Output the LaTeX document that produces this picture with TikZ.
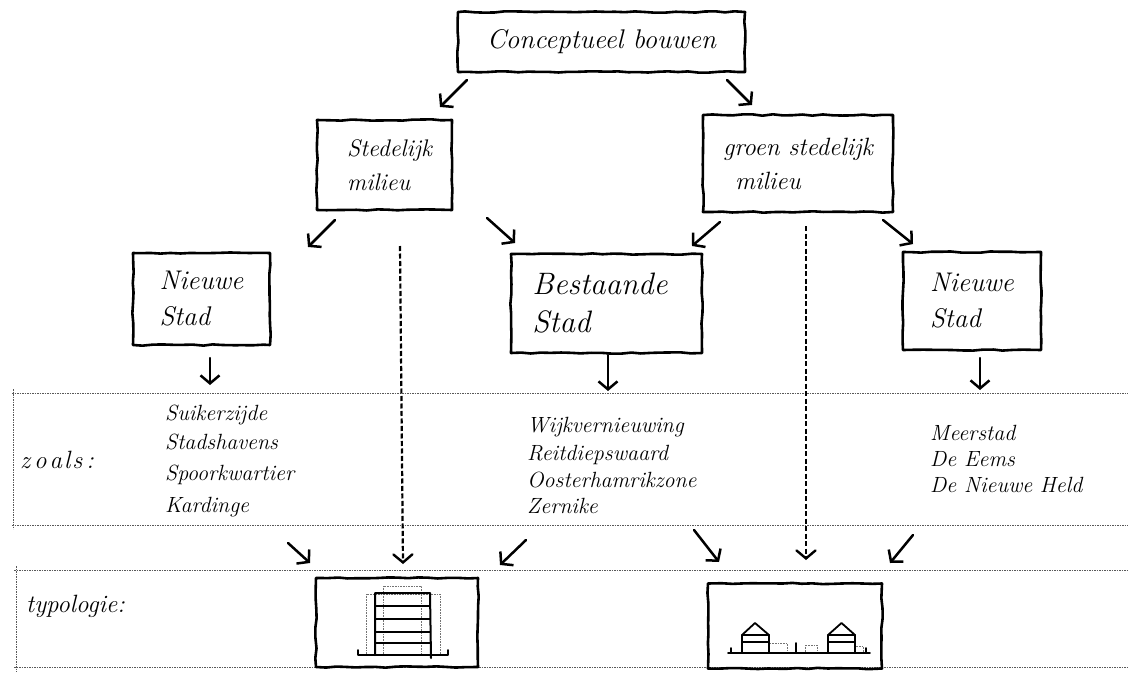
\documentclass[tikz,border=0pt]{standalone}
\usetikzlibrary{arrows.meta,decorations.pathmorphing}
\begin{document}
\pgfmathsetseed{7}
\begin{tikzpicture}[x=1pt,y=-1pt,
  box/.style={draw, line width=2.6pt, decorate,
    decoration={random steps,segment length=10pt,amplitude=0.7pt},
    line join=round, inner sep=0pt, align=left},
  arr/.style={line width=2.5pt, line cap=round,
    -{Straight Barb[length=8pt,width=19pt,line width=2.5pt]}},
  dotarr/.style={line width=2.2pt, dash pattern=on 5pt off 2.5pt,
    -{Straight Barb[length=8pt,width=19pt,line width=2.4pt,line cap=round]}},
  band/.style={draw=black!65, line width=0.8pt, dash pattern=on 1.6pt off 0.9pt},
  faint/.style={draw=black!55, line width=0.6pt, densely dotted},
  sketch/.style={line width=1.8pt, line cap=round, line join=round},
  ftop/.style={font=\itshape\fontsize{27}{32}\selectfont},
  fmid/.style={font=\itshape\fontsize{24}{34}\selectfont},
  fgsm/.style={font=\itshape\fontsize{25}{34}\selectfont},
  fbig/.style={font=\itshape\fontsize{27}{36}\selectfont},
  fbs/.style={font=\itshape\fontsize{31}{38}\selectfont},
  flist/.style={font=\itshape\fontsize{22}{26}\selectfont, anchor=base west, inner sep=0pt},
  flab/.style={font=\itshape\fontsize{25}{30}\selectfont, anchor=base west, inner sep=0pt}
]
\useasboundingbox (0,0) rectangle (1128,675);
\fill[white] (0,0) rectangle (1128,675);

% bands
\draw[band] (12,393) -- (1128,393);
\draw[band] (12,525) -- (1128,525);
\draw[band] (13,389) -- (13,529);
\draw[band] (14,570) -- (1128,570);
\draw[band] (14,667) -- (1128,667);
\draw[band] (16,566) -- (16,672);

% boxes
\node[box, ftop, minimum width=287pt, minimum height=60pt] (top) at (601.5,42) {Conceptueel bouwen};
\node[box, fmid, minimum width=135pt, minimum height=90pt] (sm) at (384.5,165) {\hspace*{10pt}Stedelijk\\\hspace*{10pt}milieu};
\node[box, fgsm, minimum width=190pt, minimum height=97pt] (gsm) at (798,163.5) {groen stedelijk\\\hspace*{12pt}milieu};
\node[box, fbig, minimum width=137pt, minimum height=92pt] (ns1) at (201.5,299) {Nieuwe\\Stad};
\node[box, fbs, minimum width=191pt, minimum height=99pt] (bs) at (606.5,303.5) {Bestaande\\Stad\hspace*{90pt}};
\node[box, fbig, minimum width=138pt, minimum height=98pt] (ns2) at (972,301) {Nieuwe\\Stad};
\node[box, minimum width=162pt, minimum height=89pt] (t1) at (397,622.5) {};
\node[box, minimum width=174pt, minimum height=85pt] (t2) at (795,626) {};

% arrow end points
\coordinate (a1s) at (467,80);  \coordinate (a1e) at (440,107);
\coordinate (a2s) at (727,80);  \coordinate (a2e) at (752,105);
\coordinate (a3s) at (335,220); \coordinate (a3e) at (308,247);
\coordinate (a4s) at (487,218); \coordinate (a4e) at (515,243);
\coordinate (a5s) at (720,222); \coordinate (a5e) at (692,246);
\coordinate (a6s) at (883,220); \coordinate (a6e) at (913,244);
\coordinate (a7s) at (210,358); \coordinate (a7e) at (210,385);
\coordinate (a8s) at (608,355); \coordinate (a8e) at (608,391);
\coordinate (a9s) at (980,358); \coordinate (a9e) at (980,390);
\coordinate (b1s) at (288,543); \coordinate (b1e) at (310,563);
\coordinate (b2s) at (526,540); \coordinate (b2e) at (500,565);
\coordinate (b3s) at (694,530); \coordinate (b3e) at (719,562);
\coordinate (b4s) at (913,535); \coordinate (b4e) at (890,563);
\coordinate (d1s) at (400,246); \coordinate (d1e) at (403,564);
\coordinate (d2s) at (806,226); \coordinate (d2e) at (806,560);

\draw[arr] (a1s) -- (a1e);
\draw[arr] (a2s) -- (a2e);
\draw[arr] (a3s) -- (a3e);
\draw[arr] (a4s) -- (a4e);
\draw[arr] (a5s) -- (a5e);
\draw[arr] (a6s) -- (a6e);
\draw[arr] (a7s) -- (a7e);
\draw[arr] (a8s) -- (a8e);
\draw[arr] (a9s) -- (a9e);
\draw[arr] (b1s) -- (b1e);
\draw[arr] (b2s) -- (b2e);
\draw[arr] (b3s) -- (b3e);
\draw[arr] (b4s) -- (b4e);
\draw[dotarr] (d1s) -- (d1e);
\draw[dotarr] (d2s) -- (d2e);

% labels
\node[flab] (zoals) at (20,468) {z\hspace{4pt}o\hspace{3pt}a\hspace{2pt}l\hspace{2pt}s\hspace{4pt}:};
\node[flab] (typo) at (26,612) {typologie:};

\node[flist] (l1a) at (165,420) {Suikerzijde};
\node[flist] (l1b) at (165,449) {Stadshavens};
\node[flist] (l1c) at (165,480) {Spoorkwartier};
\node[flist] (l1d) at (165,512) {Kardinge};

\node[flist] (l2a) at (527,432) {Wijkvernieuwing};
\node[flist] (l2b) at (527,460) {Reitdiepswaard};
\node[flist] (l2c) at (527,487) {Oosterhamrikzone};
\node[flist] (l2d) at (527,513) {Zernike};

\node[flist] (l3a) at (930,440) {Meerstad};
\node[flist] (l3b) at (930,466) {De Eems};
\node[flist] (l3c) at (930,492) {De Nieuwe Held};

% typology 1: apartment block
\draw[faint] (383,586) rectangle (421,655);
\draw[faint] (366,594) rectangle (440,655);
\draw[sketch, line width=2pt] (375,655) -- (375,593) -- (430,593) -- (431,658);
\foreach \yy in {606,619,632,643} \draw[sketch, line width=2pt] (375,\yy) -- (430,\yy);
\draw[sketch, line width=2pt] (358,650) -- (358,655) -- (448,655) -- (448,650);

% typology 2: houses
\draw[faint] (769,643) rectangle (787,653);
\draw[faint] (805,645) rectangle (817,653);
\draw[faint] (855,646) rectangle (863,653);
\draw[sketch] (728,653) -- (870,653);
\draw[sketch] (731,648) -- (731,653);
\draw[sketch] (866,648) -- (866,653);
\draw[sketch] (796,643) -- (796,653);
\draw[sketch] (742,653) -- (742,635) -- (755,623) -- (769,635) -- (769,653);
\draw[sketch] (742,635) -- (769,635);
\draw[sketch] (742,642) -- (769,642);
\draw[sketch] (828,653) -- (828,635) -- (841.5,623) -- (855,635) -- (855,653);
\draw[sketch] (828,635) -- (855,635);
\draw[sketch] (828,642) -- (855,642);
\end{tikzpicture}
\end{document}
